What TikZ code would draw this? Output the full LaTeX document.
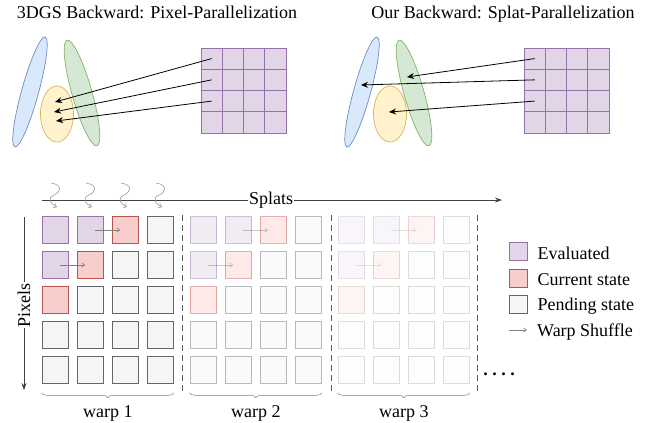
\documentclass[tikz,border=0pt]{standalone}
\usepackage{fontspec}
\setmainfont{Liberation Serif}
\usetikzlibrary{calc}
\usetikzlibrary{shapes}
\usetikzlibrary{arrows.meta}
\usetikzlibrary{positioning}
\usetikzlibrary{decorations.pathreplacing}

\definecolor{evalfill}{HTML}{E1D5E7}
\definecolor{evaldraw}{HTML}{9673A6}
\definecolor{curfill}{HTML}{F8CECC}
\definecolor{curdraw}{HTML}{B85450}
\definecolor{pendfill}{HTML}{F5F5F5}
\definecolor{penddraw}{HTML}{666666}
\definecolor{bluefill}{HTML}{DAE8FC}
\definecolor{bluedraw}{HTML}{6C8EBF}
\definecolor{greenfill}{HTML}{D5E8D4}
\definecolor{greendraw}{HTML}{82B366}
\definecolor{yellowfill}{HTML}{FFF2CC}
\definecolor{yellowdraw}{HTML}{D6B656}

\tikzset{
  cellbase/.style={draw, line width=0.8pt, minimum size=26.7pt, inner sep=0pt},
  eval/.style={cellbase, fill=evalfill, draw=evaldraw},
  cur/.style={cellbase, fill=curfill, draw=curdraw},
  pend/.style={cellbase, fill=pendfill, draw=penddraw},
  fadeA/.style={opacity=0.45},
  fadeB/.style={opacity=0.22},
  gridcell/.style={draw=evaldraw, fill=evalfill, line width=0.8pt, minimum size=21.25pt, inner sep=0pt},
  splat/.style={ellipse, line width=0.7pt, inner sep=0pt},
  shoot/.style={-{Stealth[length=7pt,width=6pt]}, line width=0.8pt},
  shuffle/.style={-{Straight Barb[length=3pt,width=4pt]}, draw=gray, line width=0.6pt, shorten <=5pt, shorten >=5pt},
  wiggle/.style={-{Straight Barb[length=3pt,width=5pt]}, draw=gray!80, line width=0.6pt},
  axis/.style={-{Stealth[length=7pt,width=5pt]}, draw=black!75, line width=0.8pt},
  sep/.style={dashed, dash pattern=on 6pt off 4pt, draw=black!65, line width=0.7pt},
  brc/.style={decorate, decoration={brace, mirror, amplitude=5pt}, draw=gray, line width=0.5pt},
  lbl/.style={font=\fontsize{18}{20}\selectfont, inner sep=1pt},
}

\newcommand{\gridrow}[4]{% name, row, x, y
  \node[gridcell] (#1-#2-1) at (#3,#4) {};
  \node[gridcell] (#1-#2-2) at ({#3+21.25},#4) {};
  \node[gridcell] (#1-#2-3) at ({#3+42.5},#4) {};
  \node[gridcell] (#1-#2-4) at ({#3+63.75},#4) {};
}
\newcommand{\warprow}[8]{% warp, row, x, y, four states
  \node[#5] (w#1-#2-1) at (#3,#4) {};
  \node[#6] (w#1-#2-2) at ({#3+35},#4) {};
  \node[#7] (w#1-#2-3) at ({#3+70},#4) {};
  \node[#8] (w#1-#2-4) at ({#3+105},#4) {};
}
\newcommand{\squiggle}[1]{\draw[wiggle] ({#1},183) .. controls ({#1+12},185) and ({#1+10},192) .. ({#1+3},195) .. controls ({#1-4},198) and ({#1-1},204) .. ({#1+6},207);}

\begin{document}
\begin{tikzpicture}[x=1pt,y=-1pt]
  \useasboundingbox (0,0) rectangle (654,423);

  % titles
  \node[lbl, anchor=base] (ttlL) at (157,18.5) {3DGS Backward: Pixel-Parallelization};
  \node[lbl, anchor=base] (ttlR) at (503,18.5) {Our Backward: Splat-Parallelization};

  % left: pixel-parallel
  \node[splat, draw=bluedraw, fill=bluefill, minimum width=114pt, minimum height=17pt, rotate=74.6] (bluL) at (30,92) {};
  \node[splat, draw=greendraw, fill=greenfill, minimum width=110pt, minimum height=20pt, rotate=105.8] (grnL) at (82,93) {};
  \node[splat, draw=yellowdraw, fill=yellowfill, minimum width=33pt, minimum height=56pt] (ylwL) at (57,114) {};

  \gridrow{l}{1}{211.6}{58.6}
  \gridrow{l}{2}{211.6}{79.85}
  \gridrow{l}{3}{211.6}{101.1}
  \gridrow{l}{4}{211.6}{122.35}

  \coordinate (tgL1) at (55,102);
  \coordinate (tgL2) at (54,112);
  \coordinate (tgL3) at (56,121);
  \draw[shoot] (l-1-1.center) -- (tgL1);
  \draw[shoot] (l-2-1.center) -- (tgL2);
  \draw[shoot] (l-3-1.center) -- (tgL3);

  % right: splat-parallel
  \node[splat, draw=bluedraw, fill=bluefill, minimum width=114pt, minimum height=17pt, rotate=74.6] (bluR) at (362,92) {};
  \node[splat, draw=greendraw, fill=greenfill, minimum width=110pt, minimum height=20pt, rotate=105.8] (grnR) at (414,93) {};
  \node[splat, draw=yellowdraw, fill=yellowfill, minimum width=33pt, minimum height=56pt] (ylwR) at (390,114) {};

  \gridrow{r}{1}{534.6}{58.6}
  \gridrow{r}{2}{534.6}{79.85}
  \gridrow{r}{3}{534.6}{101.1}
  \gridrow{r}{4}{534.6}{122.35}

  \coordinate (tgR1) at (407,77);
  \coordinate (tgR2) at (361,85);
  \coordinate (tgR3) at (389,112);
  \draw[shoot] (r-1-1.center) -- (tgR1);
  \draw[shoot] (r-2-1.center) -- (tgR2);
  \draw[shoot] (r-3-1.center) -- (tgR3);

  % axes
  \coordinate (spA) at (42,200);
  \coordinate (spB) at (502,200);
  \draw[axis] (spA) -- (spB) node[lbl, pos=0.498, fill=white] (splats) {Splats};
  \coordinate (pxA) at (24,217);
  \coordinate (pxB) at (24,390);
  \draw[axis] (pxA) -- (pxB) node[lbl, pos=0.51, rotate=90, fill=white] (pixels) {Pixels};

  \squiggle{51}
  \squiggle{86}
  \squiggle{121}
  \squiggle{156}

  % warp 1
  \warprow{1}{1}{55.3}{230}{eval}{eval}{cur}{pend}
  \warprow{1}{2}{55.3}{265}{eval}{cur}{pend}{pend}
  \warprow{1}{3}{55.3}{300}{cur}{pend}{pend}{pend}
  \warprow{1}{4}{55.3}{335}{pend}{pend}{pend}{pend}
  \warprow{1}{5}{55.3}{370}{pend}{pend}{pend}{pend}
  \draw[shuffle] (w1-1-2.center) -- (w1-1-3.center);
  \draw[shuffle] (w1-2-1.center) -- (w1-2-2.center);

  % warp 2
  \warprow{2}{1}{203.3}{230}{eval,fadeA}{eval,fadeA}{cur,fadeA}{pend,fadeA}
  \warprow{2}{2}{203.3}{265}{eval,fadeA}{cur,fadeA}{pend,fadeA}{pend,fadeA}
  \warprow{2}{3}{203.3}{300}{cur,fadeA}{pend,fadeA}{pend,fadeA}{pend,fadeA}
  \warprow{2}{4}{203.3}{335}{pend,fadeA}{pend,fadeA}{pend,fadeA}{pend,fadeA}
  \warprow{2}{5}{203.3}{370}{pend,fadeA}{pend,fadeA}{pend,fadeA}{pend,fadeA}
  \draw[shuffle, fadeA] (w2-1-2.center) -- (w2-1-3.center);
  \draw[shuffle, fadeA] (w2-2-1.center) -- (w2-2-2.center);

  % warp 3
  \warprow{3}{1}{351.3}{230}{eval,fadeB}{eval,fadeB}{cur,fadeB}{pend,fadeB}
  \warprow{3}{2}{351.3}{265}{eval,fadeB}{cur,fadeB}{pend,fadeB}{pend,fadeB}
  \warprow{3}{3}{351.3}{300}{cur,fadeB}{pend,fadeB}{pend,fadeB}{pend,fadeB}
  \warprow{3}{4}{351.3}{335}{pend,fadeB}{pend,fadeB}{pend,fadeB}{pend,fadeB}
  \warprow{3}{5}{351.3}{370}{pend,fadeB}{pend,fadeB}{pend,fadeB}{pend,fadeB}
  \draw[shuffle, fadeB] (w3-1-2.center) -- (w3-1-3.center);
  \draw[shuffle, fadeB] (w3-2-1.center) -- (w3-2-2.center);

  % separators
  \draw[sep] (182,215) -- (182,392);
  \draw[sep] (331,215) -- (331,392);
  \draw[sep] (477,215) -- (477,392);
  \node[lbl, anchor=base] (more) at (499,375) {\textbf{.\hspace{4.5pt}.\hspace{4.5pt}.\hspace{4.5pt}.}};

  % braces
  \draw[brc] ($(w1-5-1.south west)+(0,9)$) -- ($(w1-5-4.south east)+(0,9)$);
  \draw[brc] ($(w2-5-1.south west)+(0,9)$) -- ($(w2-5-4.south east)+(0,9)$);
  \draw[brc] ($(w3-5-1.south west)+(0,9)$) -- ($(w3-5-4.south east)+(0,9)$);
  \node[lbl, anchor=base] (wl1) at ($(w1-5-1)!0.5!(w1-5-4)+(0,47)$) {warp 1};
  \node[lbl, anchor=base] (wl2) at ($(w2-5-1)!0.5!(w2-5-4)+(0,47)$) {warp 2};
  \node[lbl, anchor=base] (wl3) at ($(w3-5-1)!0.5!(w3-5-4)+(0,47)$) {warp 3};

  % legend
  \node[eval, minimum size=18pt] (lgEval) at (518,251.5) {};
  \node[cur, minimum size=18pt] (lgCur) at (518,278) {};
  \node[pend, minimum size=18pt] (lgPend) at (518,304.5) {};
  \coordinate (lgA) at (504,330);
  \coordinate (lgB) at (532,330);
  \draw[shuffle] (lgA) -- (lgB);
  \node[lbl, anchor=base west] (txEval) at ($(lgEval.east)+(9,7.5)$) {Evaluated};
  \node[lbl, anchor=base west] (txCur) at ($(lgCur.east)+(9,7.5)$) {Current state};
  \node[lbl, anchor=base west] (txPend) at ($(lgPend.east)+(9,6)$) {Pending state};
  \node[lbl, anchor=base west] (txShuf) at ($(lgB)+(4,6.5)$) {Warp Shuffle};
\end{tikzpicture}
\end{document}
